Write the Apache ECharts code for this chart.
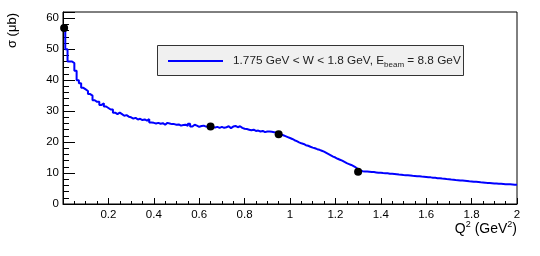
<!DOCTYPE html>
<html>
<head>
<meta charset="utf-8">
<script src="https://cdn.jsdelivr.net/npm/echarts@6/dist/echarts.min.js"></script>
<style>
html,body{margin:0;padding:0;background:#fff;}
#chart{width:540px;height:256px;}
</style>
</head>
<body>
<div id="chart"></div>
<script>
// Histogram: sigma (µb) per Q^2 bin, bins of width 0.01 GeV^2 starting at 0
const binStart = 0;
const binWidth = 0.01;
const sigma = [
  56.5, 50, 46, 46, 45.5, 43, 40, 39, 37.5, 37,
  36.5, 35.5, 35, 33.5, 33, 33, 32, 32.5, 31.5, 31,
  30.5, 30.5, 29.5, 29, 29.5, 29, 28.5, 28.7, 28.2, 28,
  27.6, 27.8, 27.3, 27.5, 27.1, 27.3, 26.9, 27.4, 26.3, 26.2,
  26.0, 26.2, 25.9, 26.1, 25.6, 26.2, 26.0, 25.8, 25.8, 25.6,
  25.7, 25.3, 25.5, 25.6, 25.2, 25.9, 25.0, 25.6, 25.3, 24.9,
  25.2, 25.3, 25.0, 24.9, 25.0, 24.8, 24.7, 24.9, 24.6, 24.9,
  24.6, 24.8, 25.1, 24.5, 25.0, 25.2, 24.8, 25.1, 24.6, 24.3,
  24.2, 24.0, 23.8, 24.0, 23.6, 23.7, 23.4, 23.6, 23.2, 23.4,
  23.4, 23.3, 23.2, 23.0, 22.8, 22.5, 22.2, 21.9, 21.6, 21.3,
  21.0, 20.6, 20.3, 19.9, 19.6, 19.4, 19.0, 18.8, 18.5, 18.2,
  18.0, 17.7, 17.5, 17.2, 16.9, 16.5, 16.1, 15.7, 15.3, 15.0,
  14.6, 14.3, 14.0, 13.6, 13.2, 12.9, 12.6, 12.2, 11.8, 11.3,
  10.8, 10.6, 10.5, 10.5, 10.4, 10.3, 10.3, 10.2, 10.1, 10.1,
  10.0, 9.95, 9.9, 9.8, 9.75, 9.7, 9.6, 9.5, 9.45, 9.35,
  9.3, 9.25, 9.2, 9.1, 9.05, 9.0, 8.95, 8.85, 8.8, 8.75,
  8.65, 8.6, 8.5, 8.45, 8.35, 8.3, 8.2, 8.15, 8.05, 8.0,
  7.9, 7.85, 7.75, 7.7, 7.6, 7.55, 7.5, 7.45, 7.35, 7.3,
  7.2, 7.15, 7.1, 7.0, 6.95, 6.9, 6.8, 6.75, 6.7, 6.65,
  6.6, 6.55, 6.5, 6.45, 6.4, 6.35, 6.35, 6.3, 6.25, 6.2
];
// Data points (black markers)
const pointQ2 = [0.005, 0.65, 0.95, 1.3];
const pointSigma = [56.8, 25.0, 22.5, 10.4];
// Axis ranges / ticks
const xMin = 0, xMax = 2, xStep = 0.2;
const yMin = 0, yMax = 62, yMajor = 10, yMinor = 2;

const legendText = '1.775 GeV < W < 1.8 GeV, E{sub|beam} = 8.8 GeV';
const xTitle = 'Q{sup|2} (GeV{sup|2})';
const yTitle = 'σ (μb)';

const histData = sigma.map((v, i) => [binStart + i * binWidth, v]);
histData.push([binStart + sigma.length * binWidth, sigma[sigma.length - 1]]);
const pointData = pointQ2.map((q, i) => [q, pointSigma[i]]);

const FONT = '"Liberation Sans", Arial, Helvetica, sans-serif';
const chart = echarts.init(document.getElementById('chart'), null, {renderer: 'canvas'});
chart.setOption({
  animation: false,
  backgroundColor: '#fff',
  grid: {left: 63, right: 23, top: 12, bottom: 52, show: true, borderColor: '#000', borderWidth: 1, backgroundColor: 'transparent'},
  xAxis: {
    type: 'value', min: xMin, max: xMax, interval: xStep,
    axisLine: {show: true, lineStyle: {color: '#000', width: 1}},
    axisTick: {show: true, inside: true, length: 6, lineStyle: {color: '#000'}},
    minorTick: {show: true, splitNumber: 4, length: 3, lineStyle: {color: '#000'}},
    splitLine: {show: false},
    axisLabel: {
      color: '#000', fontFamily: FONT, fontSize: 11.5, margin: 5,
      formatter: v => (v === 0 ? '' : String(+v.toFixed(2)))
    }
  },
  yAxis: [{
    type: 'value', min: yMin, max: yMax, interval: yMinor,
    axisLine: {show: true, lineStyle: {color: '#000', width: 1}},
    axisTick: {show: true, inside: true, length: 6, lineStyle: {color: '#000'}},
    splitLine: {show: false},
    axisLabel: {
      color: '#000', fontFamily: FONT, fontSize: 11.5, margin: 4,
      formatter: v => (Math.round(v) % yMajor === 0 && v <= 60 ? String(Math.round(v)) : '')
    }
  }, {
    type: 'value', min: yMin, max: yMax, interval: yMajor, position: 'left',
    axisLine: {show: false},
    axisTick: {show: true, inside: true, length: 12, lineStyle: {color: '#000'}},
    splitLine: {show: false},
    axisLabel: {show: false}
  }],
  series: [{
    type: 'line', step: 'end', data: histData, yAxisIndex: 0,
    showSymbol: false, symbol: 'none',
    lineStyle: {color: '#0000ff', width: 2},
    z: 2
  }, {
    type: 'scatter', data: pointData, yAxisIndex: 0,
    symbol: 'circle', symbolSize: 8, clip: false,
    itemStyle: {color: '#000', opacity: 1},
    z: 3
  }],
  graphic: [
    {type: 'text', x: 12.5, y: 13, rotation: Math.PI / 2,
     style: {text: yTitle, font: '13px ' + FONT, fill: '#000', textAlign: 'right', textVerticalAlign: 'middle'}},
    {type: 'text', x: 517, y: 229,
     style: {text: xTitle, font: '14px ' + FONT, fill: '#000', textAlign: 'right', textVerticalAlign: 'middle',
       rich: {sup: {fontSize: 9, fontFamily: FONT, padding: [0, 0, 9, 0]}}}},
    {type: 'rect', shape: {x: 157.5, y: 45.5, width: 306, height: 30},
     style: {fill: '#f0f0f0', stroke: '#333', lineWidth: 1}, z: 10},
    {type: 'line', shape: {x1: 168, y1: 61, x2: 223, y2: 61},
     style: {stroke: '#0000ff', lineWidth: 2}, z: 11},
    {type: 'text', x: 233, y: 61, z: 11,
     style: {text: legendText, font: '11.8px ' + FONT, fill: '#222', textAlign: 'left', textVerticalAlign: 'middle',
       rich: {sub: {fontSize: 8, fontFamily: FONT, padding: [8, 0, 0, 0]}}}}
  ]
});
</script>
</body>
</html>
